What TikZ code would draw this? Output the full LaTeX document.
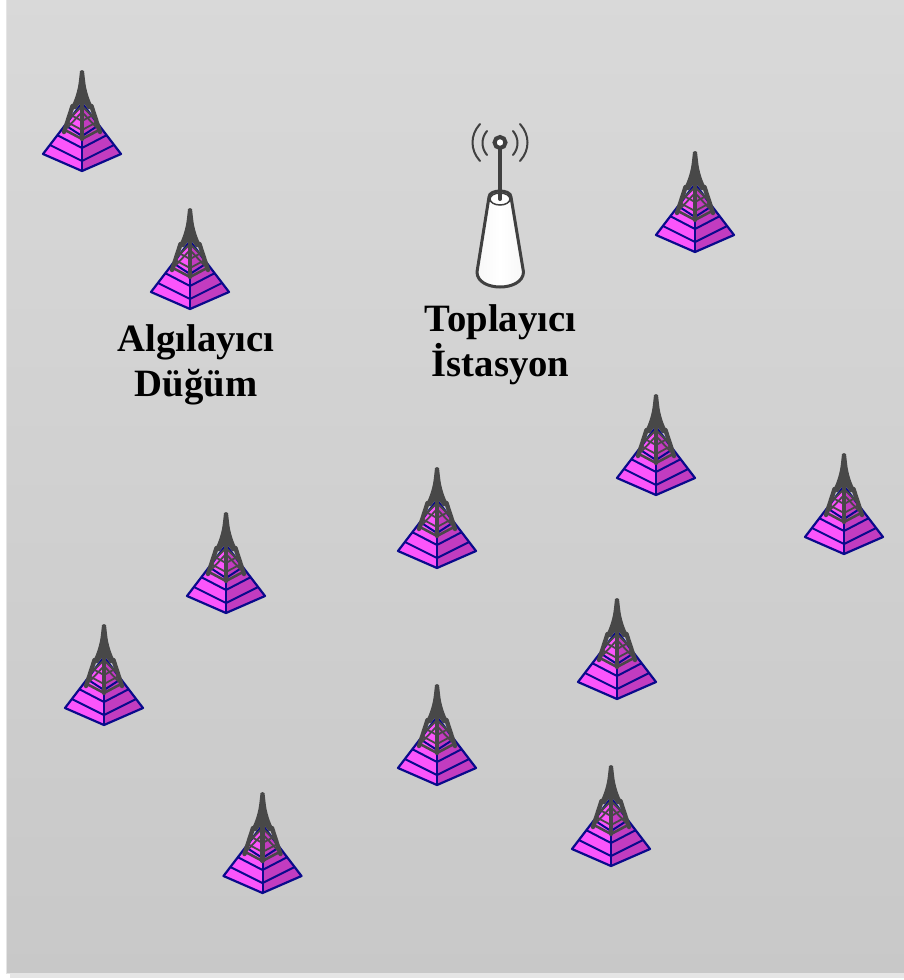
\documentclass[tikz,border=0pt]{standalone}
\usepackage{fontspec}
\setmainfont{Liberation Serif}
\definecolor{navyline}{HTML}{0A0A8C}
\definecolor{magL}{HTML}{FB55FB}
\definecolor{magR}{HTML}{C23CC0}
\definecolor{towerc}{HTML}{484848}
\definecolor{sinkc}{HTML}{404040}
\tikzset{
  x=1pt,y=-1pt,
  lbl/.style={font=\bfseries\fontsize{38.7}{45}\selectfont,align=center,text=black,inner sep=0pt},
  pyr/.style={draw=navyline,line width=2.2pt,line join=round},
  chev/.style={draw=navyline,line width=2pt},
  tw/.style={draw=towerc,line width=1.8pt},
  sinkline/.style={draw=sinkc,line cap=round},
  sensor/.pic={
    % pyramid faces
    \path[fill=magL] (0,33)--(-39,84)--(0,101)--cycle;
    \path[fill=magR] (0,33)--(39,84)--(0,101)--cycle;
    \draw[chev] (-32,75)--(0,91)--(32,75);
    \draw[chev] (-25,65)--(0,78)--(25,65);
    \draw[chev] (-17,55)--(0,66)--(17,55);
    \draw[chev] (0,60)--(0,101);
    \draw[pyr] (0,33)--(-39,84)--(0,101)--(39,84)--cycle;
    % tower body
    \fill[towerc] (-2,1) -- (-3,10) .. controls (-4,20) and (-7,30) .. (-12,39)
      -- (-6,39) -- (0,31) -- (6,39) -- (12,39)
      .. controls (7,30) and (4,20) .. (3,10) -- (2,1) -- (0,0) -- cycle;
    % legs
    \draw[tw,line width=4.4pt,line cap=round] (-9.5,36) .. controls (-12,44) and (-15,53) .. (-18,62);
    \draw[tw,line width=4.4pt,line cap=round] (9.5,36) .. controls (12,44) and (15,53) .. (18,62);
    \draw[tw,line width=4.4pt,line cap=round] (0,32)--(0,69);
    \draw[tw,line width=2.6pt] (-17,60)--(0,69)--(17,60);
    \draw[tw] (-15,52)--(0,60)--(15,52);
    \draw[tw] (-13,44)--(0,51)--(13,44);
    \draw[tw] (-15,58)--(0,42)--(15,58);
    \draw[tw] (-12,48)--(0,36)--(12,48);
  }
}
\begin{document}
\begin{tikzpicture}
\useasboundingbox (0,0) rectangle (904,980);
\fill[white] (0,0) rectangle (904,980);
\fill[black!10] (10,973) rectangle (904,978);
\fill[top color=black!15,bottom color=black!21.5,draw=none] (6,0) rectangle (904,973);
\draw[color=black!10,line width=1pt] (6.5,0)--(6.5,973.5)--(904,973.5);

\path (82,70) pic {sensor};
\path (190,208) pic {sensor};
\path (695,151) pic {sensor};
\path (656,394) pic {sensor};
\path (844,453) pic {sensor};
\path (437,467) pic {sensor};
\path (226,512) pic {sensor};
\path (104,624) pic {sensor};
\path (617,598) pic {sensor};
\path (437,684) pic {sensor};
\path (611,765) pic {sensor};
\path (262.5,792) pic {sensor};

% sink station
\path[left color=black!3,right color=black!3,middle color=white,draw=sinkc,line width=3pt,line join=round]
  (489,197) -- (477,272) .. controls (477,292) and (523,292) .. (523.5,272) -- (511,197)
  .. controls (511,189) and (489,189) .. (489,197) -- cycle;
\draw[sinkline,line width=1.5pt,fill=white] (500,199) ellipse (10 and 6);
\draw[sinkline,line width=4pt] (500,149) -- (500,199);
\draw[sinkline,line width=4pt,fill=white] (500,142.5) circle (5.5);
\draw[sinkline,line width=2pt] (487,131) .. controls (481,138) and (481,148) .. (487,155);
\draw[sinkline,line width=2pt] (513,131) .. controls (519,138) and (519,148) .. (513,155);
\draw[sinkline,line width=2pt] (480,124) .. controls (470,135) and (470,150) .. (480,161);
\draw[sinkline,line width=2pt] (520,124) .. controls (530,135) and (530,150) .. (520,161);

\node[lbl] (algi) at (196,365) {Algılayıcı\\Düğüm};
\node[lbl] (topl) at (500.5,345) {Toplayıcı\\İstasyon};
\end{tikzpicture}
\end{document}
